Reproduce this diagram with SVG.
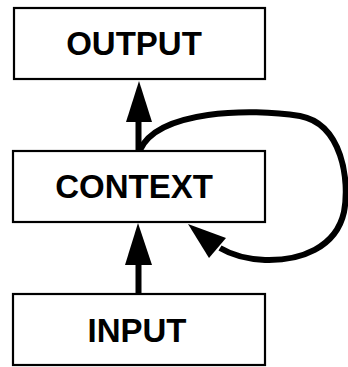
<svg xmlns="http://www.w3.org/2000/svg" width="348" height="367" viewBox="0 0 348 367">
<defs>
<style>
.box{fill:#fff;stroke:#000;stroke-width:2.2}
.lbl{font-family:"Liberation Sans",Arial,sans-serif;font-weight:bold;font-size:33px;fill:#000;text-anchor:middle}
.edge{fill:none;stroke:#000;stroke-width:6}
</style>
</defs>
<rect width="348" height="367" fill="#fff"/>
<g id="connectors">
<line class="edge" x1="138.5" y1="151" x2="138.5" y2="118"/>
<path d="M126,122 L139,81 L152,122 Z" fill="#000"/>
<line class="edge" x1="138.5" y1="294" x2="138.5" y2="262"/>
<path d="M125,265 L138,223 L152,265 Z" fill="#000"/>
<path class="edge" d="M140,150 C158,110 250,108 300,116 C342,124 350,180 344,212 C336,248 300,261 265,260 C245,259 230,254 220,248"/>
<path d="M188,224 L226,238 L209,258 Z" fill="#000"/>
</g>
<g id="output">
<rect class="box" x="14" y="8" width="251" height="71"/>
<text class="lbl" x="134" y="55">OUTPUT</text>
</g>
<g id="context">
<rect class="box" x="13" y="151" width="252" height="71"/>
<text class="lbl" x="134" y="198">CONTEXT</text>
</g>
<g id="input">
<rect class="box" x="13" y="294" width="252" height="71"/>
<text class="lbl" x="137" y="342">INPUT</text>
</g>
</svg>
